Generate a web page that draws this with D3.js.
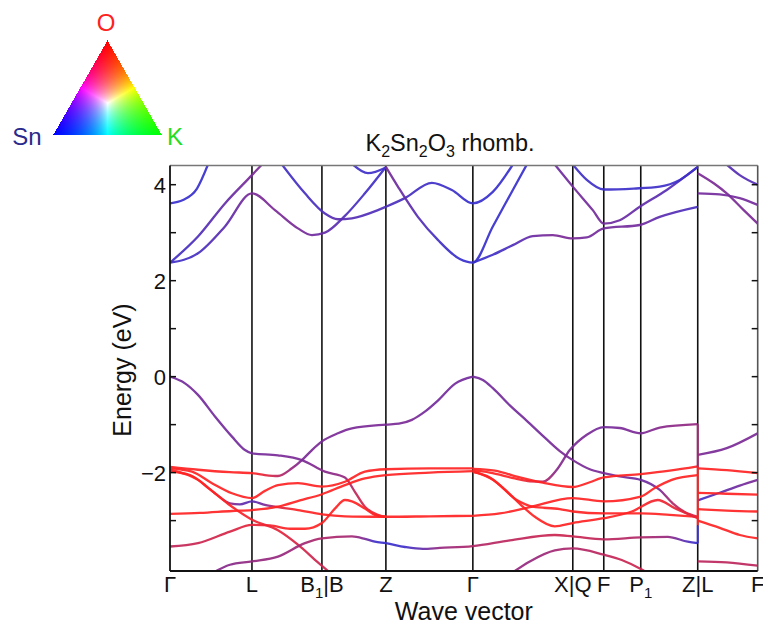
<!DOCTYPE html>
<html>
<head>
<meta charset="utf-8">
<script src="https://cdn.jsdelivr.net/npm/d3@7"></script>
<style>
body{margin:0;background:#fff}
svg{display:block}
#tri{position:absolute;left:0;top:0}
</style>
</head>
<body>
<div style="position:relative">
<svg id="chart" width="763" height="626"></svg>
<canvas id="tri" width="200" height="160"></canvas>
</div>
<script>
// k-path: high symmetry points and their labels
var kTicks  = [0, 0.82, 1.52, 2.16, 3.03, 4.03, 4.34, 4.71, 5.28, 5.88];
var kLabels = ["Γ","L","B_1|B","Z","Γ","X|Q","F","P_1","Z|L","F"];
var eTicks  = [-2, 0, 2, 4];
var eMinor  = [-3, -1, 1, 3];

// bands: [k, E (eV), w]   w: 0 = Sn (blue) ... 1 = O (red)
var cb1 = [[0,2.375,0.1],[0.28,2.57,0.15],[0.55,3.13,0.3],[0.82,3.82,0.5],[1.05,3.47,0.5],[1.28,3.09,0.48],[1.42,2.95,0.45],[1.55,3.0,0.35],[1.75,3.35,0.2],[1.95,3.82,0.12],[2.16,4.37,0.1]];
var cb2 = [[1.12,4.42,0.1],[1.35,3.82,0.15],[1.55,3.4,0.2],[1.68,3.28,0.3],[1.82,3.3,0.25],[2.08,3.47,0.2],[2.16,3.54,0.2],[2.35,3.72,0.15],[2.62,4.04,0.1],[2.82,3.89,0.08],[3.03,3.61,0.05],[3.23,3.85,0.05],[3.43,4.42,0.05]];
var cb3 = [[0,2.375,0.1],[0.28,2.92,0.2],[0.55,3.61,0.35],[0.82,4.2,0.5],[0.92,4.42,0.5]];
var cb4 = [[0,3.61,0.05],[0.13,3.68,0.05],[0.27,3.92,0.05],[0.38,4.42,0.05]];
var cb5 = [[1.83,4.42,0.1],[1.98,4.24,0.1],[2.16,4.36,0.1]];
var cb6 = [[2.16,4.37,0.5],[2.28,3.96,0.4],[2.48,3.33,0.25],[2.68,2.85,0.12],[2.9,2.45,0.05],[3.03,2.375,0.05],[3.23,3.13,0.05],[3.43,3.89,0.05],[3.57,4.42,0.05]];
var cb7 = [[3.03,2.375,0.05],[3.23,2.54,0.1],[3.43,2.74,0.2],[3.63,2.93,0.4],[3.83,2.95,0.5],[4.03,2.88,0.5],[4.17,2.9,0.45],[4.34,3.09,0.45],[4.7,3.16,0.45],[4.9,3.33,0.3],[5.28,3.54,0.15]];
var cb8 = [[3.85,4.42,0.4],[4.03,3.96,0.45],[4.23,3.47,0.45],[4.34,3.19,0.45],[4.5,3.26,0.4],[4.7,3.54,0.35],[4.97,3.89,0.25],[5.28,4.37,0.15]];
var cb9 = [[4.03,4.42,0.1],[4.17,4.1,0.1],[4.34,3.9,0.08],[4.64,3.92,0.08],[4.9,3.96,0.1],[5.1,4.1,0.1],[5.28,4.37,0.1]];
var cb10 = [[5.28,4.24,0.5],[5.44,4.03,0.5],[5.57,3.82,0.5],[5.74,3.47,0.5],[5.88,3.19,0.5]];
var cb11 = [[5.28,3.82,0.45],[5.5,3.8,0.45],[5.7,3.72,0.45],[5.88,3.58,0.45]];
var cb12 = [[5.57,4.42,0.25],[5.7,4.2,0.25],[5.88,4.0,0.25]];

var vb1 = [[0,0,0.45],[0.15,-0.14,0.45],[0.28,-0.38,0.45],[0.45,-0.83,0.45],[0.62,-1.25,0.45],[0.75,-1.53,0.45],[0.82,-1.6,0.45],[1.08,-1.64,0.5],[1.32,-1.74,0.5],[1.55,-1.98,0.55],[1.75,-2.1,0.6],[1.85,-2.4,0.75],[1.95,-2.71,0.85],[2.08,-2.88,0.95],[2.16,-2.92,1],[2.6,-2.91,1],[3.03,-2.9,1]];
var vb2 = [[0,-1.88,1],[0.28,-1.94,1],[0.6,-1.99,1],[0.82,-2.01,1],[0.95,-2.05,0.9],[1.08,-2.07,0.75],[1.22,-1.91,0.6],[1.32,-1.74,0.5],[1.42,-1.53,0.5],[1.52,-1.35,0.5],[1.68,-1.18,0.5],[1.82,-1.08,0.5],[2.16,-1.0,0.5],[2.29,-0.98,0.5],[2.42,-0.9,0.5],[2.55,-0.73,0.45],[2.68,-0.5,0.45],[2.85,-0.15,0.45],[3.03,0,0.45]];
var vb3 = [[0,-1.91,1],[0.22,-1.98,1],[0.42,-2.22,1],[0.62,-2.43,1],[0.82,-2.53,1],[0.95,-2.38,1],[1.08,-2.26,1],[1.28,-2.22,1],[1.52,-2.29,1],[1.75,-2.19,1],[1.95,-1.98,1],[2.16,-1.93,1],[2.6,-1.91,1],[3.03,-1.91,1]];
var vb4 = [[0,-1.94,1],[0.28,-2.15,1],[0.45,-2.43,0.9],[0.6,-2.64,0.6],[0.7,-2.66,0.35],[0.82,-2.6,0.25],[0.95,-2.67,0.5],[1.08,-2.72,0.85],[1.28,-2.78,1],[1.52,-2.87,1],[1.75,-2.91,1],[2.16,-2.92,1]];
var vb5 = [[0,-1.98,1],[0.2,-2.05,1],[0.4,-2.35,1],[0.6,-2.68,1],[0.82,-2.98,0.95],[1.08,-3.2,0.9],[1.28,-3.5,0.85],[1.48,-3.87,0.8],[1.62,-4.12,0.8]];
var vb6 = [[0,-2.86,1],[0.3,-2.84,1],[0.62,-2.8,1],[0.82,-2.78,1],[1.08,-2.71,1],[1.3,-2.58,1],[1.52,-2.45,1],[1.75,-2.26,1],[1.95,-2.12,1],[2.16,-2.05,1],[2.6,-2.0,1],[3.03,-1.97,1]];
var vb7 = [[0,-3.54,0.75],[0.28,-3.47,0.8],[0.6,-3.23,0.85],[0.82,-3.09,0.9],[1.0,-3.1,0.95],[1.2,-3.17,1],[1.35,-3.17,1],[1.52,-3.05,1],[1.65,-2.75,1],[1.75,-2.57,1],[1.82,-2.6,1],[1.95,-2.75,1],[2.05,-2.88,1],[2.16,-2.92,1]];
var vb8 = [[0.4,-4.12,0.55],[0.6,-3.92,0.55],[0.82,-3.85,0.6],[1.08,-3.75,0.6],[1.35,-3.47,0.65],[1.52,-3.37,0.7],[1.82,-3.33,0.65],[1.95,-3.38,0.5],[2.05,-3.44,0.1],[2.16,-3.47,0.05],[2.35,-3.55,0.1],[2.53,-3.59,0.35],[2.7,-3.57,0.6],[3.03,-3.53,0.7],[3.4,-3.41,0.75],[3.85,-3.3,0.8],[4.03,-3.33,0.8],[4.34,-3.39,0.75],[4.71,-3.35,0.7],[4.98,-3.34,0.6],[5.18,-3.44,0.2],[5.28,-3.47,0.05]];
var vb9 = [[3.03,0,0.45],[3.13,-0.07,0.45],[3.23,-0.24,0.45],[3.4,-0.6,0.45],[3.57,-0.92,0.45],[3.75,-1.27,0.45],[3.9,-1.55,0.5],[4.03,-1.74,0.5],[4.2,-1.93,0.5],[4.34,-2.01,0.5],[4.5,-2.08,0.45],[4.71,-2.15,0.4],[4.9,-2.36,0.5],[5.03,-2.64,0.7],[5.15,-2.82,0.8],[5.28,-2.92,0.85]];
var vb10 = [[3.03,-1.95,1],[3.2,-2.0,1],[3.45,-2.12,1],[3.6,-2.18,0.9],[3.73,-2.19,0.7],[3.87,-1.94,0.55],[4.0,-1.53,0.5],[4.17,-1.21,0.5],[4.34,-1.05,0.45],[4.5,-1.07,0.5],[4.71,-1.18,0.5],[4.9,-1.06,0.55],[5.28,-0.99,0.6]];
var vb11 = [[3.03,-1.92,1],[3.25,-1.96,1],[3.5,-2.1,1],[3.73,-2.21,1],[4.03,-2.3,1],[4.2,-2.2,1],[4.34,-2.1,1],[4.71,-2.03,1],[5.0,-1.96,1],[5.28,-1.87,1]];
var vb12 = [[3.03,-1.97,1],[3.23,-2.15,1],[3.47,-2.57,1],[3.63,-2.71,1],[3.9,-2.76,1],[4.03,-2.81,1],[4.34,-2.85,1],[4.71,-2.85,1],[5.0,-2.88,1],[5.28,-2.92,1]];
var vb13 = [[3.03,-1.99,1],[3.2,-2.1,1],[3.35,-2.35,1],[3.5,-2.65,1],[3.65,-2.92,1],[3.85,-3.12,1],[4.03,-3.05,1],[4.34,-2.95,1],[4.62,-2.81,1],[4.88,-2.57,0.95],[5.05,-2.74,0.9],[5.28,-2.95,0.9]];
var vb14 = [[3.03,-2.9,1],[3.3,-2.85,1],[3.6,-2.72,1],[4.03,-2.53,1],[4.34,-2.6,1],[4.71,-2.5,1],[4.85,-2.32,1],[5.02,-2.15,1],[5.28,-2.05,1]];
var vb15 = [[3.4,-4.12,0.6],[3.6,-3.85,0.6],[3.85,-3.62,0.65],[4.03,-3.58,0.7],[4.34,-3.71,0.75],[4.52,-3.82,0.8],[4.72,-4.02,0.8],[4.8,-4.12,0.8]];
var vb16 = [[5.28,-1.63,0.5],[5.57,-1.49,0.5],[5.88,-1.18,0.5]];
var vb17 = [[5.28,-1.91,1],[5.57,-1.95,1],[5.88,-2.01,1]];
var vb18 = [[5.28,-2.58,0.1],[5.5,-2.42,0.3],[5.7,-2.27,0.45],[5.88,-2.15,0.5]];
var vb19 = [[5.28,-2.42,1],[5.57,-2.44,1],[5.88,-2.46,1]];
var vb20 = [[5.28,-2.76,1],[5.57,-2.79,1],[5.88,-2.81,1]];
var vb21 = [[5.28,-3.0,1],[5.5,-3.15,1],[5.7,-3.3,1],[5.88,-3.37,1]];
var vb22 = [[5.28,-3.85,0.75],[5.57,-3.87,0.75],[5.88,-3.94,0.75]];

// discontinuities drawn at Z|L: [k, E1, E2, w]
var jumps = [[5.28,-0.99,-1.9,0.65],[5.28,-1.87,-3.1,1],[5.28,-3.1,-3.47,0.05]];

var bands = [cb1,cb2,cb3,cb4,cb5,cb6,cb7,cb8,cb9,cb10,cb11,cb12,
             vb1,vb2,vb3,vb4,vb5,vb6,vb7,vb8,vb9,vb10,vb11,vb12,vb13,vb14,vb15,
             vb16,vb17,vb18,vb19,vb20,vb21,vb22];

var svg = d3.select('#chart');
var plotL = 170, plotR = 757.7, plotT = 165.5, plotB = 571;
var font = 'Liberation Sans, Arial, sans-serif';

var x = d3.scaleLinear().domain([0, 5.88]).range([plotL, plotR]);
var y = d3.scaleLinear().domain([-4.05, 4.4]).range([plotB, plotT]);
var col = d3.scaleLinear().domain([0, 0.5, 1])
  .range(['#3030d4', '#7a2a96', '#ff2222']).interpolate(d3.interpolateRgb);

var defs = svg.append('defs');
defs.append('clipPath').attr('id','plot')
  .append('rect').attr('x',plotL).attr('y',plotT).attr('width',plotR-plotL).attr('height',plotB-plotT);

// vertical lines at high symmetry points
svg.selectAll('.kline').data(kTicks.slice(1, -1))
  .enter().append('line')
    .attr('class','kline')
    .attr('x1',function(d){return x(d);}).attr('x2',function(d){return x(d);})
    .attr('y1',plotT).attr('y2',plotB)
    .style('stroke','#111').style('stroke-width',1.6);

// bands, coloured by projection
var line = d3.line()
  .x(function(d){return x(d[0]);})
  .y(function(d){return y(d[1]);})
  .curve(d3.curveMonotoneX);
var g = svg.append('g').attr('clip-path','url(#plot)');

bands.forEach(function(b, i){
  var x1 = x(b[0][0]), x2 = x(b[b.length-1][0]);
  var grad = defs.append('linearGradient')
    .attr('id','gb'+i)
    .attr('gradientUnits','userSpaceOnUse')
    .attr('x1',x1).attr('x2',x2).attr('y1',0).attr('y2',0);
  grad.selectAll('stop').data(b).enter().append('stop')
    .attr('offset',function(d){return (x(d[0])-x1)/(x2-x1);})
    .attr('stop-color',function(d){return col(d[2]);});
  g.append('path')
    .attr('d', line(b))
    .style('fill','none')
    .style('stroke','url(#gb'+i+')')
    .style('stroke-width',2.3)
    .style('stroke-opacity',0.92);
});

g.selectAll('.jump').data(jumps)
  .enter().append('line')
    .attr('class','jump')
    .attr('x1',function(d){return x(d[0]);}).attr('x2',function(d){return x(d[0]);})
    .attr('y1',function(d){return y(d[1]);}).attr('y2',function(d){return y(d[2]);})
    .style('stroke',function(d){return col(d[3]);})
    .style('stroke-width',2);

// frame
svg.append('line').attr('x1',plotL).attr('x2',plotR).attr('y1',plotT).attr('y2',plotT)
  .style('stroke','#777').style('stroke-width',1.6);
svg.append('line').attr('x1',plotR).attr('x2',plotR).attr('y1',plotT).attr('y2',plotB)
  .style('stroke','#555').style('stroke-width',1.6);
svg.append('line').attr('x1',plotL).attr('x2',plotL).attr('y1',plotT).attr('y2',plotB)
  .style('stroke','#111').style('stroke-width',1.8);
svg.append('line').attr('x1',plotL).attr('x2',plotR).attr('y1',plotB).attr('y2',plotB)
  .style('stroke','#111').style('stroke-width',1.8);

// energy ticks, inward on both sides
var allTicks = eTicks.concat(eMinor);
svg.selectAll('.tl').data(allTicks).enter().append('line')
  .attr('x1',plotL).attr('x2',plotL+6)
  .attr('y1',function(d){return y(d);}).attr('y2',function(d){return y(d);})
  .style('stroke','#111').style('stroke-width',1.5);
svg.selectAll('.tr').data(allTicks).enter().append('line')
  .attr('x1',plotR-6).attr('x2',plotR)
  .attr('y1',function(d){return y(d);}).attr('y2',function(d){return y(d);})
  .style('stroke','#111').style('stroke-width',1.5);

svg.selectAll('.ylab').data(eTicks).enter().append('text')
  .attr('x',166).attr('y',function(d){return y(d)+8;})
  .attr('text-anchor','end')
  .style('font-family',font).style('font-size','22px').style('fill','#111')
  .text(function(d){return d < 0 ? '\u2212' + Math.abs(d) : d;});

// text with "_n" subscripts
function subText(sel, str, size){
  var parts = str.split(/_(\d)/);
  var shift = 0;
  parts.forEach(function(p, i){
    if (!p) return;
    var sub = (i % 2 == 1);
    var d = sub ? 6 : -shift;
    var t = sel.append('tspan').attr('dy', d).text(p);
    if (sub) t.style('font-size', Math.round(size*0.7)+'px');
    shift = sub ? 6 : 0;
  });
}
kTicks.forEach(function(k, i){
  var t = svg.append('text')
    .attr('x',x(k)).attr('y',592)
    .attr('text-anchor','middle')
    .style('font-family',font).style('font-size','22px').style('fill','#111');
  subText(t, kLabels[i], 22);
});

svg.append('text')
  .attr('x',(plotL+plotR)/2).attr('y',620)
  .attr('text-anchor','middle')
  .style('font-family',font).style('font-size','25px').style('fill','#111')
  .text('Wave vector');

svg.append('text')
  .attr('transform','translate(131,370) rotate(-90)')
  .attr('text-anchor','middle')
  .style('font-family',font).style('font-size','25px').style('fill','#111')
  .text('Energy (eV)');

var title = svg.append('text')
  .attr('x',450).attr('y',151)
  .attr('text-anchor','middle')
  .style('font-family',font).style('font-size','23.5px').style('fill','#111');
subText(title, 'K_2Sn_2O_3 rhomb.', 23.5);

// legend labels
svg.append('text').attr('x',106).attr('y',31).attr('text-anchor','middle')
  .style('font-family',font).style('font-size','24px').style('fill','#ff2020').text('O');
svg.append('text').attr('x',27).attr('y',145).attr('text-anchor','middle')
  .style('font-family',font).style('font-size','24px').style('fill','#2a2a8c').text('Sn');
svg.append('text').attr('x',175).attr('y',145).attr('text-anchor','middle')
  .style('font-family',font).style('font-size','24px').style('fill','#22dd22').text('K');

// colour triangle legend (O red, K green, Sn blue)
var ctx = document.getElementById('tri').getContext('2d');
var A = [107, 40], B = [53, 134], C = [161, 134];   // O, Sn, K
var img = ctx.createImageData(200, 160);
var det = (B[1]-C[1])*(A[0]-C[0]) + (C[0]-B[0])*(A[1]-C[1]);
for (var py = 0; py < 160; py++) {
  for (var px = 0; px < 200; px++) {
    var l1 = ((B[1]-C[1])*(px-C[0]) + (C[0]-B[0])*(py-C[1])) / det;
    var l2 = ((C[1]-A[1])*(px-C[0]) + (A[0]-C[0])*(py-C[1])) / det;
    var l3 = 1 - l1 - l2;
    if (l1 < 0 || l2 < 0 || l3 < 0) continue;
    var m = Math.max(l1, l2, l3);
    var idx = (py*200 + px)*4;
    img.data[idx]   = Math.round(255*l1/m);
    img.data[idx+1] = Math.round(255*l3/m);
    img.data[idx+2] = Math.round(255*l2/m);
    img.data[idx+3] = 255;
  }
}
ctx.putImageData(img, 0, 0);
</script>
</body>
</html>
